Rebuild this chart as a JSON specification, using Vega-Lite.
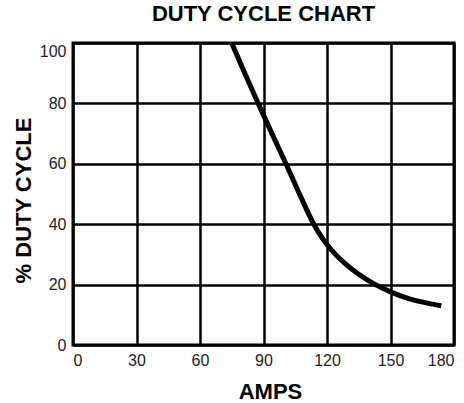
{
  "$schema": "https://vega.github.io/schema/vega-lite/v6.json",
  "width": 381,
  "height": 302,
  "autosize": {"type": "none"},
  "padding": {"left": 73, "top": 43, "right": 10, "bottom": 58},
  "background": "white",
  "title": {
    "text": "DUTY CYCLE CHART",
    "font": "Liberation Sans",
    "fontSize": 22,
    "fontWeight": "bold",
    "color": "#000000",
    "anchor": "middle",
    "frame": "group",
    "baseline": "alphabetic",
    "offset": 0,
    "dy": 0
  },
  "data": {
    "values": [
      {"amps": 75, "duty": 100},
      {"amps": 81, "duty": 90.2},
      {"amps": 87.5, "duty": 80},
      {"amps": 94, "duty": 70},
      {"amps": 100.6, "duty": 60},
      {"amps": 107, "duty": 50},
      {"amps": 110, "duty": 45.4},
      {"amps": 113, "duty": 41.0},
      {"amps": 116, "duty": 37.3},
      {"amps": 120, "duty": 33.3},
      {"amps": 124, "duty": 30.0},
      {"amps": 129, "duty": 26.7},
      {"amps": 135, "duty": 23.4},
      {"amps": 142, "duty": 20.3},
      {"amps": 150, "duty": 17.6},
      {"amps": 159, "duty": 15.3},
      {"amps": 168, "duty": 13.8},
      {"amps": 174, "duty": 13.0}
    ]
  },
  "mark": {"type": "line", "color": "#000000", "strokeWidth": 5, "interpolate": "monotone", "strokeCap": "butt", "clip": true},
  "encoding": {
    "x": {
      "field": "amps",
      "type": "quantitative",
      "scale": {"domain": [0, 180], "nice": false, "zero": false},
      "axis": {
        "title": "AMPS",
        "values": [0, 30, 60, 90, 120, 150, 180],
        "titleY": 46,
        "titleBaseline": "middle",
        "titleX": 197
      }
    },
    "y": {
      "field": "duty",
      "type": "quantitative",
      "scale": {"domain": [0, 100], "nice": false},
      "axis": {
        "title": "% DUTY CYCLE",
        "values": [0, 20, 40, 60, 80, 100],
        "labelFlush": false,
        "labelBaseline": {"condition": {"test": "datum.value == 100", "value": "top"}, "value": "middle"},
        "titleX": -50,
        "titleY": 157,
        "titleBaseline": "middle",
        "titleAngle": -90
      }
    }
  },
  "config": {
    "view": {"stroke": "#000000", "strokeWidth": 3},
    "axis": {
      "grid": true,
      "gridColor": "#000000",
      "gridWidth": 2.5,
      "gridOpacity": 1,
      "domain": false,
      "ticks": false,
      "labelFont": "Liberation Sans",
      "labelFontSize": 16,
      "labelColor": "#222222",
      "labelPadding": 7,
      "titleFont": "Liberation Sans",
      "titleFontSize": 22,
      "titleFontWeight": "bold",
      "titleColor": "#000000"
    }
  }
}
